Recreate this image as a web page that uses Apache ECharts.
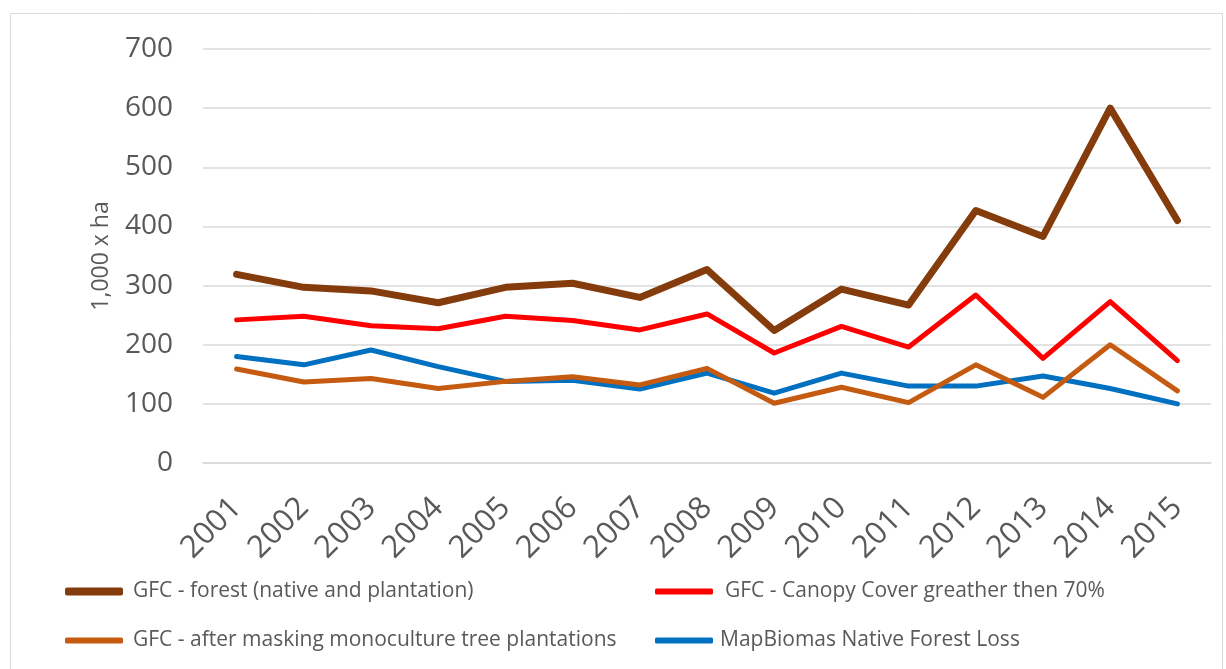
<!DOCTYPE html>
<html>
<head>
<meta charset="utf-8">
<script src="https://cdn.jsdelivr.net/npm/echarts@6/dist/echarts.min.js"></script>
<style>
html,body{margin:0;padding:0;background:#fff;}
#chart{width:1226px;height:669px;}
</style>
</head>
<body>
<div id="chart"></div>
<script>
const years = ['2001','2002','2003','2004','2005','2006','2007','2008','2009','2010','2011','2012','2013','2014','2015'];
const gfcForest = [319, 297, 291, 271, 297, 304, 280, 327, 224, 294, 267, 427, 383, 600, 410];
const gfcCanopy = [242, 248, 232, 227, 248, 241, 225, 252, 186, 231, 196, 284, 177, 273, 173];
const gfcMasked = [159, 137, 143, 126, 138, 146, 132, 160, 101, 128, 102, 166, 111, 200, 122];
const mapBiomas = [180, 166, 191, 163, 138, 140, 125, 152, 118, 152, 130, 130, 147, 126, 100];
const yTicks = [0, 100, 200, 300, 400, 500, 600, 700];

const names = [
  'GFC - forest (native and plantation)',
  'GFC - Canopy Cover greather then 70%',
  'GFC - after masking monoculture tree plantations',
  'MapBiomas Native Forest Loss'
];
const colors = ['#843C0C', '#FF0000', '#C55A11', '#0070C0'];
const widths = [7, 5, 5, 5];
const dataSets = [gfcForest, gfcCanopy, gfcMasked, mapBiomas];

const font = 'Open Sans';
const txt = '#595959';
const legendPos = [
  {left: 65, top: 581, pad: 5},
  {left: 655, top: 581, pad: 7},
  {left: 65, top: 630, pad: 5},
  {left: 655, top: 630, pad: 2}
];

const chart = echarts.init(document.getElementById('chart'), null, {renderer: 'canvas'});
chart.setOption({
  animation: false,
  backgroundColor: '#ffffff',
  graphic: [{
    type: 'rect', left: 8, top: 11,
    shape: {width: 1212, height: 665},
    style: {fill: 'none', stroke: '#d9d9d9', lineWidth: 1},
    silent: true, z: -1
  }],
  grid: {left: 203, right: 15, top: 49, bottom: 206, containLabel: false},
  legend: names.map((n, i) => ({
    data: [n],
    left: legendPos[i].left,
    top: legendPos[i].top,
    padding: 0,
    icon: 'roundRect',
    itemWidth: 58,
    itemHeight: widths[i] + 1,
    itemGap: 0,
    textStyle: {fontFamily: font, fontSize: 21, color: txt, padding: [0, 0, 0, legendPos[i].pad]},
    selectedMode: false
  })),
  xAxis: {
    type: 'category',
    data: years,
    boundaryGap: true,
    axisLine: {show: true, lineStyle: {color: '#d9d9d9', width: 1.5}},
    axisTick: {show: false},
    axisLabel: {rotate: 45, fontFamily: font, fontSize: 31, color: txt, margin: 40, interval: 0}
  },
  yAxis: {
    type: 'value',
    min: yTicks[0],
    max: yTicks[yTicks.length - 1],
    interval: 100,
    name: '1,000 x ha',
    nameLocation: 'middle',
    nameGap: 90,
    nameTextStyle: {fontFamily: font, fontSize: 23, color: txt},
    axisLine: {show: false},
    axisTick: {show: false},
    splitLine: {lineStyle: {color: '#d9d9d9', width: 1.5}},
    axisLabel: {fontFamily: font, fontSize: 28, color: txt, margin: 30}
  },
  series: names.map((n, i) => ({
    name: n,
    type: 'line',
    data: dataSets[i],
    showSymbol: false,
    symbol: 'none',
    color: colors[i],
    lineStyle: {color: colors[i], width: widths[i], cap: 'round', join: 'round'},
    z: 10 - i
  }))
});
</script>
</body>
</html>
